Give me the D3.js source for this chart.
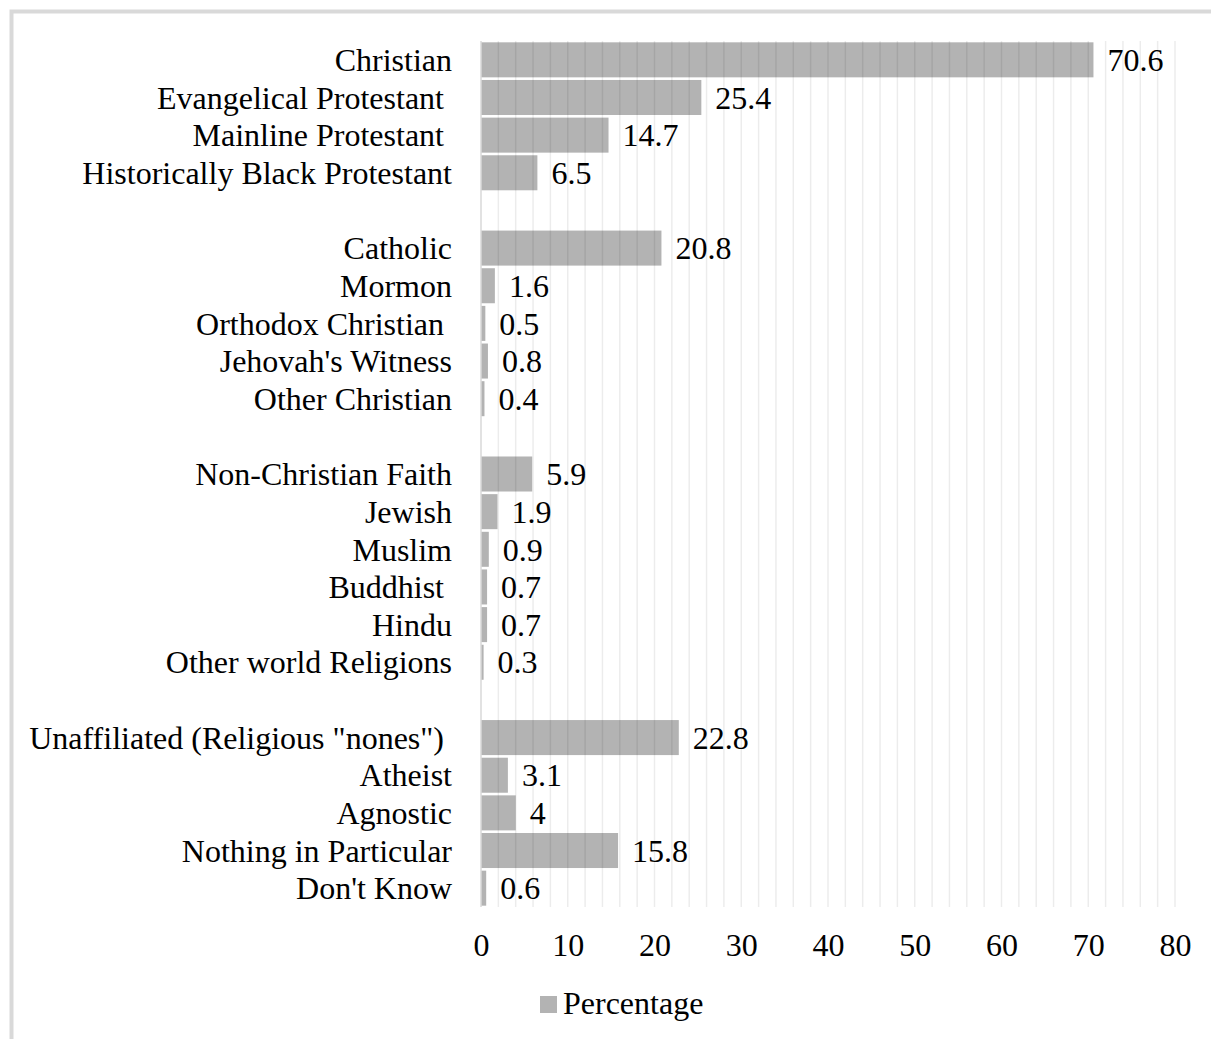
<!DOCTYPE html>
<html>
<head>
<meta charset="utf-8">
<script src="https://cdn.jsdelivr.net/npm/d3@7"></script>
<style>
  html, body { margin: 0; padding: 0; background: #ffffff; }
  svg { display: block; }
  text { font-family: "Liberation Serif", "Times New Roman", serif; fill: #000; }
</style>
</head>
<body>
<svg id="chart" width="1211" height="1039"></svg>
<script>
// Religious affiliation, percent of respondents (null rows are spacer rows between groups)
const categories = [
  "Christian", "Evangelical Protestant ", "Mainline Protestant ", "Historically Black Protestant",
  null,
  "Catholic", "Mormon", "Orthodox Christian ", "Jehovah's Witness", "Other Christian",
  null,
  "Non-Christian Faith", "Jewish", "Muslim", "Buddhist ", "Hindu", "Other world Religions",
  null,
  "Unaffiliated (Religious \"nones\") ", "Atheist", "Agnostic", "Nothing in Particular", "Don't Know"
];
const values = [
  70.6, 25.4, 14.7, 6.5,
  null,
  20.8, 1.6, 0.5, 0.8, 0.4,
  null,
  5.9, 1.9, 0.9, 0.7, 0.7, 0.3,
  null,
  22.8, 3.1, 4, 15.8, 0.6
];
const tickValues = [0, 10, 20, 30, 40, 50, 60, 70, 80];
const gridValues = d3.range(2, 81, 2);
const seriesName = "Percentage";

const rows = categories.map((c, i) => ({ id: i, label: c, value: values[i] }));

const svg = d3.select("#chart");
const barColor = "#b3b3b3";
const fontSize = 32;

// outer frame
svg.append("rect")
  .attr("x", 11.5).attr("y", 11.5)
  .attr("width", 1400).attr("height", 1200)
  .attr("fill", "none").attr("stroke", "#d9d9d9").attr("stroke-width", 4);

const x = d3.scaleLinear().domain([0, 80]).range([481, 1175]);
const y = d3.scaleBand()
  .domain(rows.map(d => d.id))
  .range([41, 907])
  .paddingInner(0.07)
  .paddingOuter(0.035);

// bars
svg.append("g").selectAll("rect")
  .data(rows.filter(d => d.value != null))
  .join("rect")
  .attr("x", x(0))
  .attr("y", d => y(d.id))
  .attr("width", d => x(d.value) - x(0))
  .attr("height", y.bandwidth())
  .attr("fill", barColor);

// vertical gridlines
svg.append("g").selectAll("line")
  .data(gridValues)
  .join("line")
  .attr("x1", d => x(d)).attr("x2", d => x(d))
  .attr("y1", 41).attr("y2", 907)
  .attr("stroke", "rgba(0,0,0,0.075)")
  .attr("stroke-width", 1.5);

// category axis line
svg.append("line")
  .attr("x1", x(0)).attr("x2", x(0))
  .attr("y1", 41).attr("y2", 907)
  .attr("stroke", "#d9d9d9").attr("stroke-width", 1.5);

// category labels
svg.append("g").selectAll("text")
  .data(rows.filter(d => d.label != null))
  .join("text")
  .attr("x", 452)
  .attr("y", d => y(d.id) + y.bandwidth() / 2)
  .attr("dy", "0.35em")
  .attr("text-anchor", "end")
  .style("white-space", "pre")
  .style("font-size", fontSize + "px")
  .text(d => d.label);

// value labels
svg.append("g").selectAll("text")
  .data(rows.filter(d => d.value != null))
  .join("text")
  .attr("x", d => x(d.value) + 14)
  .attr("y", d => y(d.id) + y.bandwidth() / 2)
  .attr("dy", "0.35em")
  .style("font-size", fontSize + "px")
  .text(d => d.value);

// value axis
const xAxis = d3.axisBottom(x).tickValues(tickValues).tickSize(0).tickPadding(0).tickFormat(d3.format("d"));
const gx = svg.append("g").attr("transform", "translate(0,956)").call(xAxis);
gx.select(".domain").remove();
gx.selectAll("text")
  .attr("y", 0).attr("dy", 0)
  .style("font-size", fontSize + "px")
  .style("font-family", "'Liberation Serif', 'Times New Roman', serif")
  .attr("fill", "#000");

// legend
const legend = svg.append("g");
legend.append("rect")
  .attr("x", 540).attr("y", 996)
  .attr("width", 17).attr("height", 17)
  .attr("fill", barColor);
legend.append("text")
  .attr("x", 563).attr("y", 1014)
  .style("font-size", fontSize + "px")
  .text(seriesName);
</script>
</body>
</html>
